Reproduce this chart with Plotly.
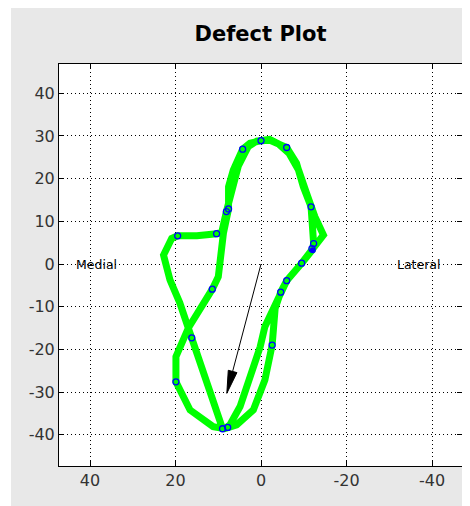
import math
import plotly.graph_objects as go

# ---- data ----
path_x = [8.5, 7.3, 4.9, 2.6, 0.2, -0.9, -2.9, -4.6, -6.0, -9.5, -12.0, -12.3, -12.2, -11.7,
          -9.9, -8.3, -6.0, -2.1, 0.0, 2.6, 4.3, 6.5, 7.6, 7.6, 8.8, 10.0, 11.4, 14.5, 17.0,
          19.9, 19.9, 16.6, 11.2, 8.5,
          7.8, 5.7, 1.8, -0.9, -2.6, -3.3, -4.6, -6.0, -9.5, -11.9, -14.6, -12.6, -11.7,
          -10.5, -8.8, -6.5, -4.0, -2.0, 1.0, 3.0, 5.3, 6.8, 8.1, 9.2, 10.4, 15.0, 19.5,
          20.9, 22.8, 21.3, 19.0, 17.0, 16.2, 13.6, 11.2, 9.0]
path_y = [-38.6, -37.7, -33.4, -26.4, -19.4, -14.7, -10.8, -6.6, -3.9, 0.2, 3.3, 4.8, 7.0, 13.4,
          18.1, 23.6, 27.3, 29.0, 28.9, 28.3, 26.9, 22.0, 18.1, 12.9, 7.2, -3.0, -5.9, -11.0, -15.0,
          -21.7, -27.6, -34.2, -38.1, -38.6,
          -38.3, -37.7, -34.2, -27.2, -19.0, -10.4, -6.6, -3.9, 0.2, 3.5, 6.8, 11.1, 13.4,
          17.0, 22.0, 26.0, 28.2, 29.2, 28.8, 27.5, 23.0, 18.0, 12.3, 7.4, 7.1, 6.6, 6.6,
          6.0, 2.1, -3.7, -9.1, -15.0, -17.3, -24.8, -31.9, -38.6]

marker_x = [0.0, 4.3, -6.0, -11.7, 7.6, 8.1, 19.5, 10.4, -12.3, -11.9, -9.5, -6.0, -4.6,
            11.4, 16.2, -2.6, 19.9, 9.0, 7.8]
marker_y = [28.9, 26.9, 27.3, 13.4, 12.9, 12.3, 6.6, 7.1, 4.8, 3.6, 0.2, -3.9, -6.6,
            -5.9, -17.3, -19.0, -27.6, -38.6, -38.3]
filled_x = [-12.1]
filled_y = [3.2]

arrow_start = [0.0, 0.0]
arrow_tip = [8.0, -30.3]

x_ticks = [40, 20, 0, -20, -40]
y_ticks = [-40, -30, -20, -10, 0, 10, 20, 30, 40]

labels = ["Medial", "Lateral"]
label_x = [43.7, -31.3]
label_y = [0, 0]

# ---- figure (page body has an 8px margin, so the figure is 8px smaller) ----
W, H = 462, 498
ml, mr, mt, mb = 51, 8, 56, 40
pw, ph = W - ml - mr, H - mt - mb

fig = go.Figure()
fig.add_trace(go.Scatter(x=path_x, y=path_y, mode="lines",
                         line=dict(color="#00ff00", width=7), hoverinfo="skip"))
fig.add_trace(go.Scatter(x=marker_x, y=marker_y, mode="markers",
                         marker=dict(symbol="circle-open", size=6, color="#0000ff",
                                     line=dict(width=1.3, color="#0000ff"))))
fig.add_trace(go.Scatter(x=filled_x, y=filled_y, mode="markers",
                         marker=dict(symbol="circle", size=6, color="#0000ff")))

# arrow: shaft + narrow filled head derived from start/tip
dx = arrow_tip[0] - arrow_start[0]
dy = arrow_tip[1] - arrow_start[1]
ln = math.hypot(dx, dy)
ux, uy = dx / ln, dy / ln
head_len, head_half = 5.3, 1.05
bx, by = arrow_tip[0] - ux * head_len, arrow_tip[1] - uy * head_len
px_, py_ = -uy, ux
fig.add_trace(go.Scatter(x=[arrow_start[0], bx], y=[arrow_start[1], by], mode="lines",
                         line=dict(color="black", width=1)))
fig.add_trace(go.Scatter(x=[arrow_tip[0], bx + px_ * head_half, bx - px_ * head_half, arrow_tip[0]],
                         y=[arrow_tip[1], by + py_ * head_half, by - py_ * head_half, arrow_tip[1]],
                         mode="lines", fill="toself", fillcolor="black",
                         line=dict(color="black", width=1)))

for t, x, y in zip(labels, label_x, label_y):
    fig.add_annotation(x=x, y=y, text=t, showarrow=False, xanchor="left", yanchor="middle",
                       font=dict(family="DejaVu Sans", size=12.5, color="black"))

# thin white strip at the left of the gray figure panel
fig.add_shape(type="rect", xref="paper", yref="paper",
              x0=-ml / pw, x1=(3 - ml) / pw, y0=-mb / ph, y1=(H - mb) / ph,
              fillcolor="white", line=dict(width=0), layer="below")

axis_common = dict(showgrid=True, gridcolor="black", gridwidth=1, griddash="1px,3px",
                   zeroline=False, showline=True, linecolor="black", linewidth=1,
                   mirror="ticks", ticks="inside", ticklen=5, tickcolor="black",
                   tickfont=dict(family="DejaVu Sans", size=16, color="#333333"))

fig.update_layout(
    width=W, height=H,
    margin=dict(l=ml, r=mr, t=mt, b=mb, pad=0),
    paper_bgcolor="#e8e8e8", plot_bgcolor="white",
    showlegend=False,
    title=dict(text="<b>Defect Plot</b>", x=0.5, xref="paper", xanchor="center",
               y=1 - 26 / H, yref="container", yanchor="middle",
               font=dict(family="DejaVu Sans", size=21, color="black")),
    xaxis=dict(range=[47.25, -47.0], tickvals=x_ticks, ticktext=[str(v) for v in x_ticks],
               **axis_common),
    yaxis=dict(range=[-47.33, 46.87], tickvals=y_ticks, ticktext=[str(v) for v in y_ticks],
               **axis_common),
)

fig.write_html("out.html")
